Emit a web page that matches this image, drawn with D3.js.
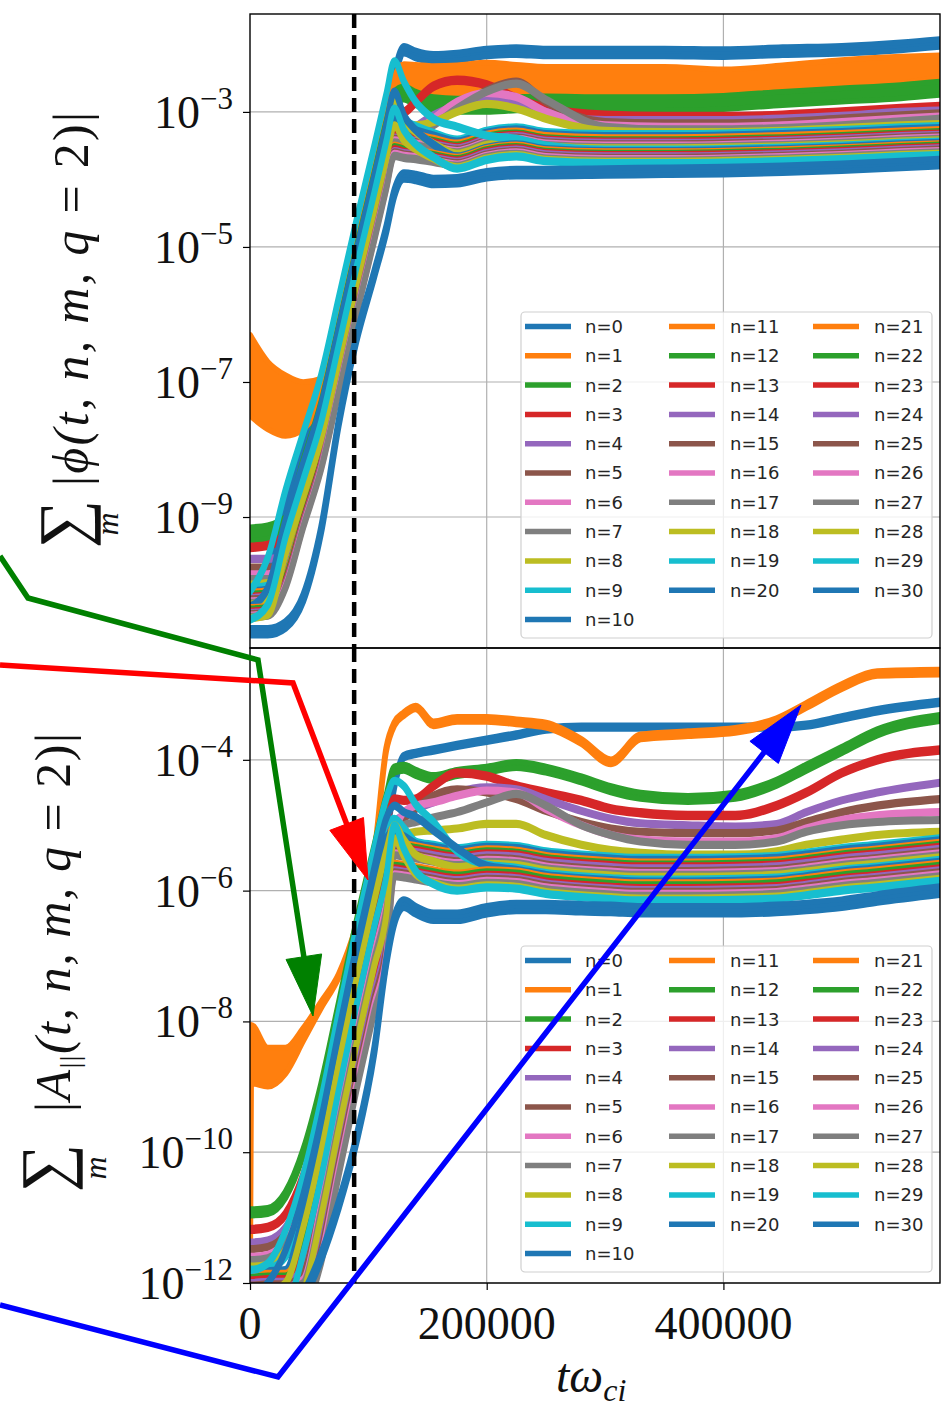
<!DOCTYPE html>
<html>
<head>
<meta charset="utf-8">
<script src="https://cdn.jsdelivr.net/npm/d3@7"></script>
<style>
  body { margin: 0; background: #fff; }
  svg { display: block; }
  .cm { font-family: 'Liberation Serif', 'Times New Roman', 'DejaVu Serif', serif; }
</style>
</head>
<body>
<svg id="fig" width="948" height="1410"></svg>
<script>
// ---- data (log10 of the mode amplitudes) ----
const timeTop = [0, 15000, 30000, 45000, 60000, 75000, 90000, 105000, 115000, 122000, 130000, 140000,
  155000, 175000, 200000, 225000, 250000, 300000, 350000, 400000, 450000, 500000, 550000, 583000];
const timeBottom = [0, 1000, 15000, 30000, 45000, 60000, 75000, 90000, 105000, 115000, 122000, 130000,
  140000, 155000, 175000, 200000, 225000, 250000, 280000, 305000, 330000, 370000, 410000, 445000,
  470000, 500000, 530000, 583000];

const modes = d3.range(31);
const onsetTime = 88000;
const timeTicks = [0, 200000, 400000];
const phiTicks = [-3, -5, -7, -9];
const aparTicks = [-4, -6, -8, -10, -12];

const phiLog = [
  [-10.3, -9.9, -8.8, -7.95, -7.1, -5.95, -4.8, -3.7, -2.95, -2.45, -2.08, -2.15, -2.2, -2.18, -2.12, -2.1, -2.12, -2.12, -2.12, -2.13, -2.1, -2.08, -2.03, -1.98],
  [-6.9, -7.2, -7.35, -7.35, -7.1, -6.1, -4.95, -3.85, -3.1, -2.6, -2.45, -2.5, -2.55, -2.55, -2.52, -2.55, -2.58, -2.58, -2.58, -2.62, -2.55, -2.45, -2.38, -2.32],
  [-9.25, -9.22, -9.1, -8.25, -7.4, -6.25, -5.1, -4.0, -3.25, -2.8, -2.72, -2.8, -2.88, -2.9, -2.9, -2.88, -2.87, -2.88, -2.88, -2.86, -2.8, -2.75, -2.7, -2.65],
  [-9.45, -9.42, -9.25, -8.35, -7.5, -6.35, -5.2, -4.1, -3.35, -2.9, -3.0, -2.85, -2.62, -2.53, -2.6, -2.8, -2.95, -3.05, -3.07, -3.07, -3.05, -3.0, -2.95, -2.92],
  [-9.62, -9.62, -9.58, -9.0, -8.15, -7.0, -5.85, -4.75, -4.0, -3.5, -3.35, -3.22, -3.05, -2.9, -2.78, -2.85, -3.0, -3.12, -3.12, -3.12, -3.1, -3.06, -3.0, -2.98],
  [-9.75, -9.75, -9.72, -9.05, -8.2, -7.05, -5.9, -4.8, -4.05, -3.55, -3.4, -3.3, -3.15, -2.95, -2.68, -2.55, -2.85, -3.15, -3.17, -3.17, -3.15, -3.1, -3.05, -3.02],
  [-9.85, -9.85, -9.8, -9.0, -8.15, -7.0, -5.85, -4.75, -4.0, -3.5, -3.4, -3.3, -3.1, -2.85, -2.72, -2.78, -3.0, -3.2, -3.22, -3.22, -3.2, -3.15, -3.1, -3.07],
  [-9.92, -9.92, -9.88, -9.05, -8.2, -7.05, -5.9, -4.8, -4.05, -3.55, -3.45, -3.35, -3.2, -2.95, -2.7, -2.58, -2.82, -3.22, -3.26, -3.26, -3.24, -3.2, -3.14, -3.1],
  [-10.0, -9.98, -9.65, -8.75, -7.9, -6.75, -5.6, -4.5, -3.75, -3.25, -3.2, -3.2, -3.15, -3.0, -2.88, -2.95, -3.1, -3.28, -3.3, -3.3, -3.28, -3.24, -3.2, -3.18],
  [-10.05, -10.02, -9.35, -8.5, -7.65, -6.5, -5.35, -4.25, -3.5, -3.0, -3.13, -3.21, -3.31, -3.41, -3.28, -3.23, -3.3, -3.33, -3.33, -3.32, -3.3, -3.27, -3.23, -3.21],
  [-10.1, -10.08, -9.45, -8.6, -7.75, -6.6, -5.45, -4.35, -3.6, -3.1, -3.2, -3.27, -3.35, -3.44, -3.31, -3.26, -3.33, -3.36, -3.36, -3.35, -3.33, -3.3, -3.26, -3.24],
  [-10.12, -10.1, -9.65, -8.75, -7.9, -6.75, -5.6, -4.5, -3.75, -3.25, -3.31, -3.34, -3.4, -3.47, -3.34, -3.29, -3.36, -3.39, -3.39, -3.38, -3.36, -3.33, -3.29, -3.27],
  [-10.15, -10.13, -9.7, -8.8, -7.95, -6.8, -5.65, -4.55, -3.8, -3.3, -3.35, -3.38, -3.43, -3.5, -3.37, -3.32, -3.39, -3.42, -3.42, -3.41, -3.39, -3.36, -3.32, -3.3],
  [-10.18, -10.16, -9.72, -8.8, -7.95, -6.8, -5.65, -4.55, -3.8, -3.3, -3.36, -3.39, -3.45, -3.52, -3.39, -3.34, -3.41, -3.44, -3.44, -3.43, -3.41, -3.38, -3.34, -3.32],
  [-10.2, -10.18, -9.78, -8.88, -8.03, -6.88, -5.73, -4.63, -3.88, -3.38, -3.41, -3.43, -3.48, -3.54, -3.41, -3.36, -3.43, -3.46, -3.46, -3.45, -3.43, -3.4, -3.36, -3.34],
  [-10.22, -10.2, -9.8, -8.9, -8.05, -6.9, -5.75, -4.65, -3.9, -3.4, -3.43, -3.45, -3.5, -3.56, -3.43, -3.38, -3.45, -3.48, -3.48, -3.47, -3.45, -3.42, -3.38, -3.36],
  [-10.25, -10.23, -9.83, -8.92, -8.07, -6.92, -5.77, -4.67, -3.92, -3.42, -3.45, -3.47, -3.52, -3.58, -3.45, -3.4, -3.47, -3.5, -3.5, -3.49, -3.47, -3.44, -3.4, -3.38],
  [-10.27, -10.25, -9.85, -8.95, -8.1, -6.95, -5.8, -4.7, -3.95, -3.45, -3.48, -3.5, -3.54, -3.6, -3.47, -3.42, -3.49, -3.52, -3.52, -3.51, -3.49, -3.46, -3.42, -3.4],
  [-10.3, -10.2, -9.2, -8.35, -7.5, -6.35, -5.2, -4.1, -3.35, -2.85, -3.13, -3.3, -3.47, -3.62, -3.49, -3.44, -3.51, -3.54, -3.54, -3.53, -3.51, -3.48, -3.44, -3.42],
  [-10.1, -9.6, -8.6, -7.75, -6.9, -5.75, -4.6, -3.5, -2.75, -2.25, -2.55, -2.85, -3.1, -3.22, -3.35, -3.4, -3.5, -3.56, -3.56, -3.55, -3.53, -3.5, -3.46, -3.44],
  [-10.33, -10.05, -9.05, -8.2, -7.35, -6.2, -5.05, -3.95, -3.2, -2.7, -3.05, -3.27, -3.48, -3.66, -3.53, -3.48, -3.55, -3.58, -3.58, -3.57, -3.55, -3.52, -3.48, -3.46],
  [-10.35, -10.33, -9.9, -9.0, -8.15, -7.0, -5.85, -4.75, -4.0, -3.5, -3.54, -3.57, -3.62, -3.68, -3.55, -3.5, -3.57, -3.6, -3.6, -3.59, -3.57, -3.54, -3.5, -3.48],
  [-10.37, -10.35, -9.92, -9.02, -8.17, -7.02, -5.87, -4.77, -4.02, -3.52, -3.56, -3.59, -3.64, -3.7, -3.57, -3.52, -3.59, -3.62, -3.62, -3.61, -3.59, -3.56, -3.52, -3.5],
  [-10.4, -10.38, -9.95, -9.05, -8.2, -7.05, -5.9, -4.8, -4.05, -3.55, -3.59, -3.61, -3.66, -3.72, -3.59, -3.54, -3.61, -3.64, -3.64, -3.63, -3.61, -3.58, -3.54, -3.52],
  [-10.42, -10.4, -9.98, -9.08, -8.23, -7.08, -5.93, -4.83, -4.08, -3.58, -3.61, -3.63, -3.68, -3.74, -3.61, -3.56, -3.63, -3.66, -3.66, -3.65, -3.63, -3.6, -3.56, -3.54],
  [-10.44, -10.42, -10.0, -9.1, -8.25, -7.1, -5.95, -4.85, -4.1, -3.6, -3.63, -3.65, -3.7, -3.76, -3.63, -3.58, -3.65, -3.68, -3.68, -3.67, -3.65, -3.62, -3.58, -3.56],
  [-10.46, -10.44, -10.02, -9.12, -8.27, -7.12, -5.97, -4.87, -4.12, -3.62, -3.65, -3.67, -3.72, -3.78, -3.65, -3.6, -3.67, -3.7, -3.7, -3.69, -3.67, -3.64, -3.6, -3.58],
  [-10.48, -10.46, -10.05, -9.15, -8.3, -7.15, -6.0, -4.9, -4.15, -3.65, -3.68, -3.7, -3.74, -3.8, -3.67, -3.62, -3.69, -3.72, -3.72, -3.71, -3.69, -3.66, -3.62, -3.6],
  [-10.5, -10.45, -9.55, -8.7, -7.85, -6.7, -5.55, -4.45, -3.7, -3.2, -3.42, -3.55, -3.69, -3.82, -3.69, -3.64, -3.71, -3.74, -3.74, -3.73, -3.71, -3.68, -3.64, -3.62],
  [-10.52, -10.3, -9.3, -8.45, -7.6, -6.45, -5.3, -4.2, -3.45, -2.95, -3.27, -3.48, -3.67, -3.84, -3.71, -3.66, -3.73, -3.76, -3.76, -3.75, -3.73, -3.7, -3.66, -3.64],
  [-10.7, -10.7, -10.6, -10.2, -9.2, -7.6, -6.35, -5.4, -4.75, -4.2, -3.95, -3.97, -4.03, -4.02, -3.93, -3.9, -3.9, -3.89, -3.88, -3.87, -3.85, -3.82, -3.78, -3.75]
];

const aparLog = [
  [-11.9, -11.9, -11.85, -11.5, -10.9, -9.95, -8.7, -7.35, -6.1, -5.2, -4.4, -3.95, -3.9, -3.85, -3.78, -3.7, -3.62, -3.53, -3.5, -3.5, -3.5, -3.5, -3.5, -3.5, -3.47, -3.36, -3.25, -3.12],
  [-12.5, -8.5, -8.7, -8.6, -8.2, -7.75, -7.3, -6.55, -5.45, -3.85, -3.45, -3.3, -3.2, -3.45, -3.38, -3.38, -3.42, -3.47, -3.72, -4.03, -3.65, -3.6, -3.55, -3.4, -3.17, -2.88, -2.68, -2.66],
  [-10.92, -10.92, -10.9, -10.65, -10.0, -9.0, -7.75, -6.5, -5.35, -4.6, -4.15, -4.12, -4.2, -4.28, -4.2, -4.15, -4.08, -4.15, -4.3, -4.45, -4.55, -4.6, -4.55, -4.35, -4.12, -3.85, -3.58, -3.36],
  [-11.18, -11.18, -11.15, -10.95, -10.35, -9.4, -8.15, -6.9, -5.75, -5.0, -4.6, -4.62, -4.6, -4.4, -4.2, -4.25, -4.4, -4.5, -4.62, -4.75, -4.81, -4.85, -4.85, -4.7, -4.5, -4.2, -4.0, -3.85],
  [-11.38, -11.38, -11.35, -11.15, -10.6, -9.7, -8.5, -7.25, -6.1, -5.35, -4.95, -4.85, -4.75, -4.65, -4.5, -4.42, -4.45, -4.6, -4.78, -4.9, -4.97, -5.0, -5.02, -4.98, -4.8, -4.62, -4.5, -4.35],
  [-11.48, -11.48, -11.45, -11.25, -10.7, -9.8, -8.6, -7.35, -6.2, -5.45, -5.05, -4.9, -4.75, -4.55, -4.45, -4.5, -4.6, -4.78, -4.95, -5.05, -5.1, -5.12, -5.12, -5.08, -4.95, -4.8, -4.7, -4.6],
  [-11.6, -11.6, -11.57, -11.35, -10.8, -9.9, -8.7, -7.45, -6.3, -5.55, -5.1, -4.8, -4.7, -4.65, -4.55, -4.47, -4.5, -4.75, -5.0, -5.15, -5.22, -5.25, -5.25, -5.2, -5.05, -4.92, -4.85, -4.8],
  [-11.65, -11.65, -11.62, -11.4, -10.85, -9.95, -8.75, -7.5, -6.35, -5.6, -5.15, -5.0, -4.95, -4.88, -4.8, -4.65, -4.52, -4.7, -5.0, -5.15, -5.25, -5.3, -5.3, -5.25, -5.1, -5.0, -4.95, -4.92],
  [-11.75, -11.75, -11.72, -11.5, -10.95, -10.05, -8.85, -7.6, -6.45, -5.7, -5.25, -5.15, -5.1, -5.08, -5.05, -4.98, -4.98, -5.15, -5.3, -5.38, -5.42, -5.45, -5.45, -5.4, -5.3, -5.22, -5.15, -5.1],
  [-11.8, -11.8, -11.78, -11.6, -10.75, -9.6, -8.25, -6.95, -5.75, -5.0, -4.9, -5.04, -5.25, -5.3, -5.35, -5.3, -5.32, -5.4, -5.45, -5.48, -5.5, -5.5, -5.49, -5.47, -5.42, -5.35, -5.3, -5.2],
  [-11.84, -11.84, -11.82, -11.8, -10.95, -9.8, -8.45, -7.15, -5.95, -5.2, -5.1, -5.17, -5.28, -5.33, -5.38, -5.33, -5.35, -5.43, -5.48, -5.51, -5.53, -5.53, -5.52, -5.5, -5.45, -5.38, -5.33, -5.23],
  [-11.88, -11.88, -11.86, -11.86, -11.35, -10.2, -8.85, -7.55, -6.35, -5.6, -5.27, -5.29, -5.32, -5.37, -5.42, -5.37, -5.39, -5.47, -5.52, -5.55, -5.57, -5.57, -5.56, -5.54, -5.49, -5.42, -5.37, -5.27],
  [-11.92, -11.92, -11.9, -11.9, -11.45, -10.3, -8.95, -7.65, -6.45, -5.7, -5.3, -5.32, -5.35, -5.4, -5.45, -5.4, -5.42, -5.5, -5.55, -5.58, -5.6, -5.6, -5.59, -5.57, -5.52, -5.45, -5.4, -5.3],
  [-11.96, -11.96, -11.94, -11.94, -11.55, -10.4, -9.05, -7.75, -6.55, -5.8, -5.33, -5.35, -5.38, -5.43, -5.48, -5.43, -5.45, -5.53, -5.58, -5.61, -5.63, -5.63, -5.62, -5.6, -5.55, -5.48, -5.43, -5.33],
  [-12.0, -12.0, -11.98, -11.98, -11.75, -10.6, -9.25, -7.95, -6.75, -6.0, -5.36, -5.38, -5.41, -5.46, -5.51, -5.46, -5.48, -5.56, -5.61, -5.64, -5.66, -5.66, -5.65, -5.63, -5.58, -5.51, -5.46, -5.36],
  [-12.04, -12.04, -12.02, -12.02, -11.85, -10.7, -9.35, -8.05, -6.85, -6.1, -5.4, -5.42, -5.45, -5.5, -5.55, -5.5, -5.52, -5.6, -5.65, -5.68, -5.7, -5.7, -5.69, -5.67, -5.62, -5.55, -5.5, -5.4],
  [-12.08, -12.08, -12.06, -12.06, -11.95, -10.8, -9.45, -8.15, -6.95, -6.2, -5.43, -5.45, -5.48, -5.53, -5.58, -5.53, -5.55, -5.63, -5.68, -5.71, -5.73, -5.73, -5.72, -5.7, -5.65, -5.58, -5.53, -5.43],
  [-12.12, -12.12, -12.1, -12.1, -12.0, -10.9, -9.55, -8.25, -7.05, -6.3, -5.46, -5.48, -5.51, -5.56, -5.61, -5.56, -5.58, -5.66, -5.71, -5.74, -5.76, -5.76, -5.75, -5.73, -5.68, -5.61, -5.56, -5.46],
  [-12.16, -12.16, -12.14, -12.0, -11.15, -10.0, -8.65, -7.35, -6.15, -5.4, -5.0, -5.22, -5.45, -5.55, -5.64, -5.59, -5.61, -5.69, -5.74, -5.77, -5.79, -5.79, -5.78, -5.76, -5.71, -5.64, -5.59, -5.49],
  [-11.8, -11.8, -11.7, -11.2, -10.35, -9.2, -7.85, -6.55, -5.35, -4.6, -4.32, -4.4, -4.68, -4.95, -5.4, -5.6, -5.65, -5.73, -5.78, -5.81, -5.83, -5.83, -5.82, -5.8, -5.75, -5.68, -5.63, -5.53],
  [-12.2, -12.2, -12.0, -11.5, -10.65, -9.5, -8.15, -6.85, -5.65, -4.9, -4.7, -4.8, -4.87, -5.08, -5.35, -5.62, -5.68, -5.76, -5.81, -5.84, -5.86, -5.86, -5.85, -5.83, -5.78, -5.71, -5.66, -5.56],
  [-12.24, -12.24, -12.22, -12.22, -12.15, -11.1, -9.75, -8.45, -7.25, -6.5, -5.59, -5.61, -5.64, -5.69, -5.74, -5.69, -5.71, -5.79, -5.84, -5.87, -5.89, -5.89, -5.88, -5.86, -5.81, -5.74, -5.69, -5.59],
  [-12.28, -12.28, -12.26, -12.26, -12.2, -11.2, -9.85, -8.55, -7.35, -6.6, -5.62, -5.64, -5.67, -5.72, -5.77, -5.72, -5.74, -5.82, -5.87, -5.9, -5.92, -5.92, -5.91, -5.89, -5.84, -5.77, -5.72, -5.62],
  [-12.32, -12.32, -12.3, -12.3, -12.25, -11.3, -9.95, -8.65, -7.45, -6.7, -5.66, -5.68, -5.71, -5.76, -5.81, -5.76, -5.78, -5.86, -5.91, -5.94, -5.96, -5.96, -5.95, -5.93, -5.88, -5.81, -5.76, -5.66],
  [-12.36, -12.36, -12.34, -12.34, -12.3, -11.4, -10.05, -8.75, -7.55, -6.8, -5.69, -5.71, -5.74, -5.79, -5.84, -5.79, -5.81, -5.89, -5.94, -5.97, -5.99, -5.99, -5.98, -5.96, -5.91, -5.84, -5.79, -5.69],
  [-12.4, -12.4, -12.38, -12.38, -12.33, -11.5, -10.15, -8.85, -7.65, -6.9, -5.72, -5.74, -5.77, -5.82, -5.87, -5.82, -5.84, -5.92, -5.97, -6.0, -6.02, -6.02, -6.01, -5.99, -5.94, -5.87, -5.82, -5.72],
  [-12.44, -12.44, -12.42, -12.42, -12.37, -11.6, -10.25, -8.95, -7.75, -7.0, -5.75, -5.77, -5.8, -5.85, -5.9, -5.85, -5.87, -5.95, -6.0, -6.03, -6.05, -6.05, -6.04, -6.02, -5.97, -5.9, -5.85, -5.75],
  [-12.48, -12.48, -12.46, -12.46, -12.4, -11.7, -10.35, -9.05, -7.85, -7.1, -5.78, -5.8, -5.83, -5.88, -5.93, -5.88, -5.9, -5.98, -6.03, -6.06, -6.08, -6.08, -6.07, -6.05, -6.0, -5.93, -5.88, -5.78],
  [-12.52, -12.52, -12.5, -12.5, -12.15, -11.0, -9.65, -8.35, -7.15, -6.4, -5.2, -5.47, -5.75, -5.88, -5.97, -5.92, -5.94, -6.02, -6.07, -6.1, -6.12, -6.12, -6.11, -6.09, -6.04, -5.97, -5.92, -5.82],
  [-12.56, -12.56, -12.54, -12.4, -11.55, -10.4, -9.05, -7.75, -6.55, -5.8, -5.0, -5.36, -5.7, -5.9, -6.0, -5.95, -5.97, -6.05, -6.1, -6.13, -6.15, -6.15, -6.14, -6.12, -6.07, -6.0, -5.95, -5.85],
  [-12.6, -12.6, -12.6, -12.5, -12.2, -11.6, -10.8, -9.8, -8.45, -7.1, -6.45, -6.2, -6.3, -6.4, -6.4, -6.3, -6.25, -6.25, -6.27, -6.28, -6.3, -6.3, -6.3, -6.28, -6.25, -6.2, -6.12, -6.0]
];

// noise half-width of each band, decades
const phiNoise = [0.06, 0, 0.1, 0.03, 0.02, 0.02, 0.02, 0.02, 0.02, 0.02, 0.02, 0.02, 0.02, 0.02, 0.02, 0.02,
  0.02, 0.02, 0.02, 0.02, 0.02, 0.02, 0.02, 0.02, 0.02, 0.02, 0.02, 0.02, 0.02, 0.02, 0.06];
const aparNoise = [0.03, 0, 0.05, 0.03, 0.02, 0.02, 0.02, 0.02, 0.02, 0.02, 0.02, 0.02, 0.02, 0.02, 0.02, 0.02,
  0.02, 0.02, 0.02, 0.02, 0.02, 0.02, 0.02, 0.02, 0.02, 0.02, 0.02, 0.02, 0.02, 0.02, 0.07];
const phiN1Spread = [0.6, 0.5, 0.45, 0.35, 0.15, 0.05, 0.05, 0.05, 0.08, 0.12, 0.16, 0.2, 0.23, 0.24, 0.25,
  0.25, 0.25, 0.25, 0.25, 0.25, 0.24, 0.22, 0.2, 0.16];
const aparN1Spread = [0, 0.45, 0.3, 0.2, 0.1, 0.05, 0.03, 0.03, 0.03, 0.03, 0.03, 0.03, 0.03, 0.04, 0.04, 0.04,
  0.04, 0.04, 0.04, 0.04, 0.04, 0.04, 0.04, 0.04, 0.04, 0.04, 0.04, 0.04];

// ---- layout ----
const svg = d3.select('#fig');
const left = 250, right = 940;
const tab = d3.schemeCategory10;

const x = d3.scaleLinear().domain([0, 583000]).range([left, right]);
const yTop = d3.scaleLog().domain([Math.pow(10, -10.94), Math.pow(10, -1.55)]).range([648, 14]);
const yBot = d3.scaleLog().domain([1e-12, Math.pow(10, -2.29)]).range([1283, 648]);

const panels = [
  {id: 'phi', y: yTop, top: 14, bottom: 648, times: timeTop, series: phiLog, noise: phiNoise,
    spreadN1: phiN1Spread, ticks: phiTicks, legendTop: 312},
  {id: 'apar', y: yBot, top: 648, bottom: 1283, times: timeBottom, series: aparLog, noise: aparNoise,
    spreadN1: aparN1Spread, ticks: aparTicks, legendTop: 946}
];

panels.forEach(p => {
  const g = svg.append('g');

  svg.append('clipPath').attr('id', `clip-${p.id}`)
    .append('rect')
    .attr('x', left).attr('y', p.top)
    .attr('width', right - left).attr('height', p.bottom - p.top);

  // grid
  g.append('g').selectAll('line')
    .data(p.ticks)
    .join('line')
    .attr('x1', left).attr('x2', right)
    .attr('y1', e => p.y(Math.pow(10, e))).attr('y2', e => p.y(Math.pow(10, e)))
    .attr('stroke', '#b0b0b0').attr('stroke-width', 1.2);
  g.append('g').selectAll('line')
    .data(timeTicks.slice(1))
    .join('line')
    .attr('x1', d => x(d)).attr('x2', d => x(d))
    .attr('y1', p.top).attr('y2', p.bottom)
    .attr('stroke', '#b0b0b0').attr('stroke-width', 1.2);

  // mode curves
  const area = d3.area()
    .x(d => x(d.t))
    .y0(d => p.y(Math.pow(10, d.v - d.w)))
    .y1(d => p.y(Math.pow(10, d.v + d.w)))
    .curve(d3.curveMonotoneX);

  g.append('g')
    .attr('clip-path', `url(#clip-${p.id})`)
    .selectAll('path')
    .data(modes)
    .join('path')
    .attr('d', n => area(p.series[n].map((v, i) => ({
      t: p.times[i],
      v: v,
      w: n === 1 ? p.spreadN1[i] : p.noise[n]
    }))))
    .attr('fill', n => tab[n % 10])
    .attr('stroke', n => tab[n % 10])
    .attr('stroke-width', 5.5)
    .attr('stroke-linejoin', 'round');

  // onset marker
  g.append('line')
    .attr('x1', x(onsetTime)).attr('x2', x(onsetTime))
    .attr('y1', p.top).attr('y2', p.bottom)
    .attr('stroke', '#000').attr('stroke-width', 4.5)
    .attr('stroke-dasharray', '14,7');

  // y axis
  const axis = g.append('g')
    .attr('transform', `translate(${left},0)`)
    .call(d3.axisLeft(p.y).tickValues(p.ticks.map(e => Math.pow(10, e))).tickSize(7).tickFormat(''));
  axis.select('.domain').remove();
  axis.selectAll('.tick line').attr('stroke', '#000').attr('stroke-width', 1.2);

  g.append('g').selectAll('text')
    .data(p.ticks)
    .join('text')
    .attr('class', 'cm')
    .attr('x', 233)
    .attr('y', e => p.y(Math.pow(10, e)) + 16)
    .attr('text-anchor', 'end')
    .attr('font-size', 46)
    .attr('fill', '#111')
    .each(function(e) {
      const t = d3.select(this);
      t.append('tspan').text('10');
      t.append('tspan').attr('dy', -19).attr('font-size', 31).text('\u2212' + Math.abs(e));
    });

  // frame
  g.append('rect')
    .attr('x', left).attr('y', p.top)
    .attr('width', right - left).attr('height', p.bottom - p.top)
    .attr('fill', 'none').attr('stroke', '#000').attr('stroke-width', 1.4);

  // legend
  const cols = [d3.range(0, 11), d3.range(11, 21), d3.range(21, 31)];
  const handleX = [525, 669, 813];
  const textX = [585, 730, 874];
  const lg = g.append('g');
  lg.append('rect')
    .attr('x', 521).attr('y', p.legendTop)
    .attr('width', 411).attr('height', 326)
    .attr('rx', 4)
    .attr('fill', '#fff').attr('fill-opacity', 0.8)
    .attr('stroke', '#d0d0d0').attr('stroke-width', 1.2);
  cols.forEach((col, c) => {
    const rows = lg.append('g').selectAll('g')
      .data(col)
      .join('g')
      .attr('transform', (n, i) => `translate(0, ${p.legendTop + 14.5 + i * 29.3})`);
    rows.append('line')
      .attr('x1', handleX[c]).attr('x2', handleX[c] + 46)
      .attr('stroke', n => tab[n % 10]).attr('stroke-width', 5.5);
    rows.append('text')
      .attr('x', textX[c]).attr('dy', '0.36em')
      .attr('font-family', 'DejaVu Sans, sans-serif')
      .attr('font-size', 18)
      .attr('fill', '#262626')
      .text(n => `n=${n}`);
  });
});

// x axis (bottom panel)
const xa = svg.append('g')
  .attr('transform', 'translate(0,1283)')
  .call(d3.axisBottom(x).tickValues(timeTicks).tickSize(7).tickFormat(''));
xa.select('.domain').remove();
xa.selectAll('.tick line').attr('stroke', '#000').attr('stroke-width', 1.2);
svg.append('g').selectAll('text')
  .data(timeTicks)
  .join('text')
  .attr('class', 'cm')
  .attr('x', d => x(d)).attr('y', 1339)
  .attr('text-anchor', 'middle')
  .attr('font-size', 46).attr('fill', '#111')
  .text(d => d);

// axis titles
const xt = svg.append('text')
  .attr('class', 'cm')
  .attr('x', 556).attr('y', 1392)
  .attr('font-size', 48).attr('font-style', 'italic').attr('fill', '#111');
xt.append('tspan').text('t\u03c9');
xt.append('tspan').attr('dy', 9).attr('font-size', 32).text('ci');

function yTitle(sumCenter, sumBase, subBase, textStart, textEnd, textBase, parts) {
  const g = svg.append('g').attr('transform', 'rotate(-90)')
    .attr('class', 'cm').attr('fill', '#111');
  g.append('text')
    .attr('x', -sumCenter).attr('y', sumBase)
    .attr('text-anchor', 'middle')
    .attr('font-size', 68)
    .text('\u2211');
  g.append('text')
    .attr('x', -sumCenter).attr('y', subBase)
    .attr('text-anchor', 'middle')
    .attr('font-size', 32).attr('font-style', 'italic')
    .text('m');
  const t = g.append('text')
    .attr('x', -textStart).attr('y', textBase)
    .attr('font-size', 50).attr('font-style', 'italic')
    .attr('textLength', textStart - textEnd)
    .attr('lengthAdjust', 'spacing');
  parts.forEach(pt => {
    const s = t.append('tspan').text(pt.s);
    if (pt.dy) s.attr('dy', pt.dy);
    if (pt.size) s.attr('font-size', pt.size);
    if (pt.upright) s.attr('font-style', 'normal');
  });
}
yTitle(524, 86, 118, 486, 112, 88, [
  {s: '|', upright: true}, {s: '\u03d5(t, n, m, q '}, {s: '= 2)|', upright: true}
]);
yTitle(1168, 68, 106, 1112, 733, 70, [
  {s: '|', upright: true}, {s: 'A'}, {s: '||', size: 28, dy: 9, upright: true},
  {s: '(t, n, m, q ', dy: -9}, {s: '= 2)|', upright: true}
]);

// hand-drawn arrows over the figure
const arrows = [
  {color: '#008000', pts: [[0, 556], [28, 598], [258, 660], [313, 1016]]},
  {color: '#ff0000', pts: [[0, 665], [293, 683], [368, 880]]},
  {color: '#0000ff', pts: [[0, 1305], [278, 1377], [801, 705]]}
];
arrows.forEach(a => {
  const n = a.pts.length;
  const [tx, ty] = a.pts[n - 1];
  const [px, py] = a.pts[n - 2];
  const len = Math.hypot(tx - px, ty - py);
  const ux = (tx - px) / len, uy = (ty - py) / len;
  const head = 60, half = 18;
  const bx = tx - ux * head, by = ty - uy * head;
  const shaft = a.pts.slice(0, n - 1).concat([[bx + ux * 6, by + uy * 6]]);
  svg.append('path')
    .attr('d', d3.line()(shaft))
    .attr('fill', 'none').attr('stroke', a.color)
    .attr('stroke-width', 5.5).attr('stroke-linejoin', 'miter');
  svg.append('path')
    .attr('d', d3.line()([[tx, ty], [bx - uy * half, by + ux * half], [bx + uy * half, by - ux * half]]) + 'Z')
    .attr('fill', a.color).attr('stroke', a.color).attr('stroke-width', 1);
});
</script>
</body>
</html>
